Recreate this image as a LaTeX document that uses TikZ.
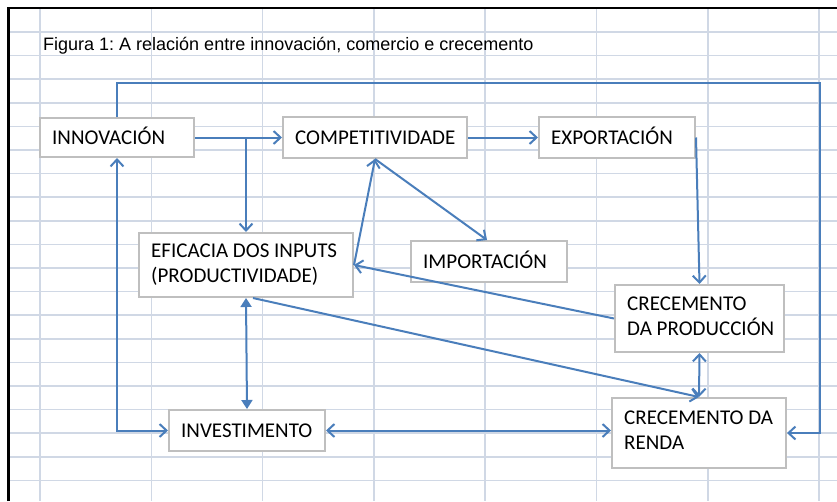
\documentclass[tikz,border=0pt]{standalone}
\usepackage{fontspec}
\setmainfont{Liberation Sans}
\newfontfamily\boxfont{Carlito}
\usetikzlibrary{arrows.meta}
\definecolor{gridc}{RGB}{208,216,229}
\definecolor{linec}{RGB}{74,126,187}
\definecolor{boxc}{RGB}{191,191,191}
\tikzset{
  boxnode/.style={draw=boxc, fill=white, line width=2pt, inner sep=0pt},
  lbl/.style={font=\boxfont\fontsize{21}{25}\selectfont, align=left, inner sep=0pt, anchor=west, xshift=13pt},
  conn/.style={draw=linec, line width=2pt},
  barb/.style={conn, -{Straight Barb[length=7pt,width=13pt]}},
  dbarb/.style={conn, {Straight Barb[length=7pt,width=13pt]}-{Straight Barb[length=7pt,width=13pt]}},
  dtri/.style={conn, {Triangle[length=9pt,width=11pt]}-{Triangle[length=9pt,width=11pt]}},
  gridline/.style={draw=gridc, line width=1.5pt}
}
\frenchspacing
\begin{document}
\begin{tikzpicture}[x=1pt,y=-1pt]
\useasboundingbox (0,0) rectangle (837,501);
\fill[white] (0,0) rectangle (837,501);
% grid
\foreach \k in {0,...,7} {
  \draw[gridline] ({40+111.3*\k},9) -- ({40+111.3*\k},501);
}
\foreach \k in {0,...,19} {
  \draw[gridline] (10,{32+23.6*\k}) -- (837,{32+23.6*\k});
}
% frame
\draw[black, line width=2.5pt] (8.5,501) -- (8.5,8) -- (837,8);
% title
\node[anchor=base west, inner sep=0pt, font=\fontsize{18}{22}\selectfont] (title) at (43,50) {Figura 1: A relación entre innovación, comercio e crecemento};
% boxes
\node[boxnode, minimum width=154pt, minimum height=39pt, label={[lbl,yshift=2pt]west:INNOVACIÓN}] (inno) at (117,137.5) {};
\node[boxnode, minimum width=184pt, minimum height=41pt, label={[lbl]west:COMPETITIVIDADE}] (comp) at (375,137.5) {};
\node[boxnode, minimum width=156pt, minimum height=41pt, label={[lbl,yshift=2pt]west:EXPORTACIÓN}] (expo) at (617,137.5) {};
\node[boxnode, minimum width=214pt, minimum height=64pt, label={[lbl]west:EFICACIA DOS INPUTS\\(PRODUCTIVIDADE)}] (efic) at (246,265) {};
\node[boxnode, minimum width=156pt, minimum height=41pt, label={[lbl,yshift=1.5pt]west:IMPORTACIÓN}] (impo) at (489,261.5) {};
\node[boxnode, minimum width=169pt, minimum height=67pt, label={[lbl,yshift=2pt]west:CRECEMENTO\\DA PRODUCCIÓN}] (prod) at (699.5,318.5) {};
\node[boxnode, minimum width=156pt, minimum height=41pt, label={[lbl]west:INVESTIMENTO}] (inve) at (247,430.5) {};
\node[boxnode, minimum width=174pt, minimum height=70pt, label={[lbl,yshift=3pt]west:CRECEMENTO DA\\RENDA}] (rend) at (699,433) {};
% helper coordinates
\coordinate (loopL) at (117,83);
\coordinate (loopR) at (820,83);
% connectors
\draw[barb] (inno.east) -- (comp.west);
\draw[barb] (inno.east -| efic.north) -- (efic.north);
\draw[barb] (inno.north) -- (loopL) -- (loopR) |- (rend.east);
\draw[dbarb] (inno.south) |- (inve.west);
\draw[barb] (comp.east) -- (expo.west);
\draw[barb] (expo.east) -- (prod.north);
\draw[barb] (comp.south) -- ([xshift=-2pt]impo.north);
\draw[barb] (efic.east) -- (comp.south);
\draw[barb] (prod.west) -- (efic.east);
\draw[dtri] (efic.south) -- (inve.north);
\draw[barb] ([xshift=7pt]efic.south) -- (rend.north);
\draw[dbarb] (prod.south) -- (rend.north);
\draw[dbarb] (inve.east) -- (inve.east -| rend.west);
\end{tikzpicture}
\end{document}
